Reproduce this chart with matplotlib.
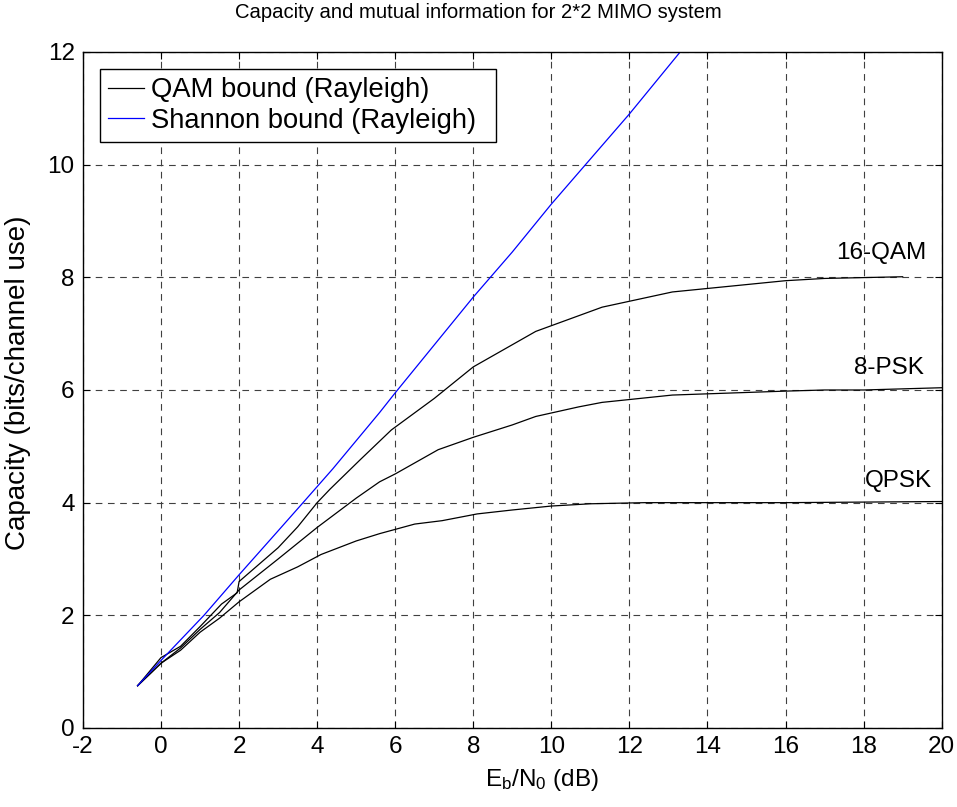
import matplotlib
matplotlib.use("Agg")
import matplotlib.pyplot as plt
from matplotlib.lines import Line2D

plt.rcParams['font.family'] = ['Liberation Sans', 'DejaVu Sans']
plt.rcParams['mathtext.default'] = 'regular'
plt.rcParams['axes.unicode_minus'] = False

# Mutual information curves (bits/channel use) vs Eb/N0 (dB)
qpsk_x = [-0.6, 0.0, 0.5, 1.0, 1.5, 2.0, 2.8, 3.5, 4.1, 5.0, 5.6, 6.5, 7.2, 8.1, 9.0, 10.0, 11.0, 12.4, 14.0, 16.0, 18.0, 20.0]
qpsk_y = [0.75, 1.15, 1.38, 1.7, 1.95, 2.24, 2.64, 2.86, 3.08, 3.32, 3.45, 3.62, 3.68, 3.80, 3.87, 3.94, 3.98, 4.0, 4.0, 4.0, 4.01, 4.02]

psk8_x = [-0.6, 0.0, 0.5, 1.0, 1.5, 2.0, 3.0, 4.0, 5.0, 5.6, 6.0, 7.1, 8.0, 9.0, 9.6, 10.7, 11.3, 13.1, 16.0, 17.0, 18.0, 20.0]
psk8_y = [0.75, 1.15, 1.42, 1.75, 2.05, 2.45, 3.0, 3.56, 4.08, 4.37, 4.51, 4.94, 5.16, 5.38, 5.53, 5.70, 5.78, 5.91, 5.98, 6.0, 6.0, 6.04]

qam16_x = [-0.6, 0.0, 0.5, 1.0, 1.55, 1.95, 2.0, 3.0, 3.5, 4.0, 4.33, 5.1, 5.9, 7.0, 8.0, 9.6, 11.3, 13.1, 16.0, 17.0, 19.0]
qam16_y = [0.75, 1.25, 1.45, 1.8, 2.2, 2.4, 2.6, 3.2, 3.57, 4.0, 4.24, 4.76, 5.29, 5.85, 6.41, 7.04, 7.47, 7.74, 7.94, 7.98, 8.01]

# Shannon capacity bound
shannon_x = [-0.6, 0.0, 1.1, 2.0, 3.0, 3.6, 4.4, 5.0, 5.6, 6.0, 7.0, 8.0, 9.0, 10.0, 11.0, 12.0, 13.3]
shannon_y = [0.75, 1.2, 2.0, 2.72, 3.5, 3.97, 4.6, 5.1, 5.6, 5.95, 6.8, 7.65, 8.45, 9.3, 10.1, 10.9, 12.0]

curve_labels = ['QPSK', '8-PSK', '16-QAM']
label_pos = [(19.75, 4.39), (19.55, 6.39), (19.6, 8.43)]

fig = plt.figure(figsize=(9.57, 8.07), dpi=100)
ax = fig.add_axes([0.0867, 0.0979, 0.8973, 0.8377])

lw = 0.9
ax.plot(qpsk_x, qpsk_y, color='black', lw=lw)
ax.plot(psk8_x, psk8_y, color='black', lw=lw)
ax.plot(qam16_x, qam16_y, color='black', lw=lw)
ax.plot(shannon_x, shannon_y, color='blue', lw=lw)

for text, (tx, ty) in zip(curve_labels, label_pos):
    ax.text(tx, ty, text, ha='right', va='center', fontsize=17.5)

ax.set_xlim(-2, 20)
ax.set_ylim(0, 12)
ax.set_xticks(range(-2, 21, 2))
ax.set_yticks(range(0, 13, 2))
ax.grid(True, color='0.25', linestyle=(0, (6, 5)), lw=0.8)
ax.tick_params(direction='in', top=True, right=True, length=5, labelsize=17.5, pad=6)
for s in ax.spines.values():
    s.set_linewidth(1.0)

fig.text(0.5, 0.984, 'Capacity and mutual information for 2*2 MIMO system',
         ha='center', va='center', fontsize=14.6)
ax.set_xlabel('$E_b/N_0$ (dB)', fontsize=17.5)
ax.xaxis.set_label_coords(0.5345, -0.058)
ax.set_ylabel('Capacity (bits/channel use)', fontsize=20)
ax.yaxis.set_label_coords(-0.0606, 0.51)

handles = [Line2D([], [], color='black', lw=lw), Line2D([], [], color='blue', lw=lw)]
leg = ax.legend(handles, ['QAM bound (Rayleigh)', 'Shannon bound (Rayleigh)'],
                loc='upper left', bbox_to_anchor=(0.0198, 0.8664, 0.4612, 0.108),
                mode='expand', borderaxespad=0,
                fancybox=False, framealpha=1, edgecolor='black', fontsize=19.7,
                handlelength=1.3, handletextpad=0.25, borderpad=0.3, labelspacing=0.15)
leg.get_frame().set_linewidth(1.0)

fig.savefig('out.png', dpi=100)
